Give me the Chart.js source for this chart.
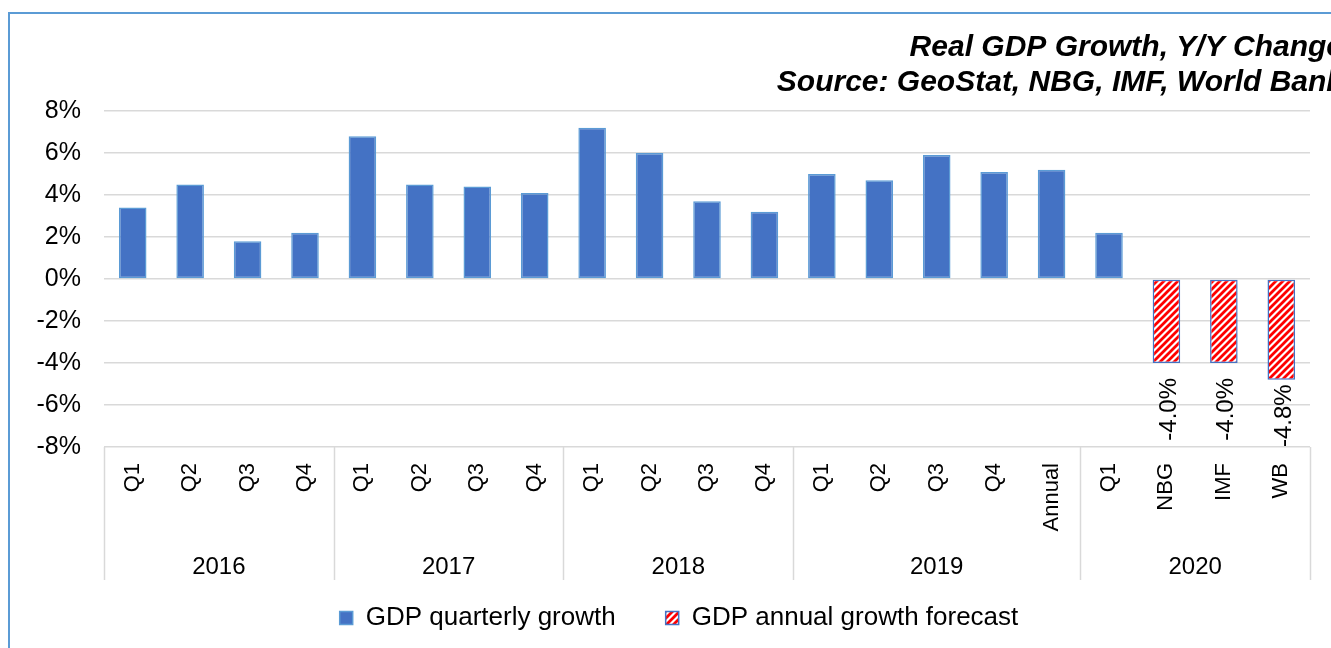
<!DOCTYPE html>
<html>
<head>
<meta charset="utf-8">
<script src="https://cdn.jsdelivr.net/npm/chart.js@4"></script>
<style>
html,body{margin:0;padding:0;overflow:hidden;background:#fff}
#marco{position:absolute;left:8px;top:12px;width:1360px;height:680px;border:2px solid #5b9bd5}
canvas{display:block}
</style>
</head>
<body>
<div id="marco"><canvas id="grafico" width="1350" height="660"></canvas></div>
<script>
// datos del grafico
const categorias = ['Q1','Q2','Q3','Q4','Q1','Q2','Q3','Q4','Q1','Q2','Q3','Q4','Q1','Q2','Q3','Q4','Annual','Q1','NBG','IMF','WB']
const anios = ['2016','2017','2018','2019','2020']
const anios_span = [4,4,4,5,4]
const crecimiento_trimestral = [3.4,4.5,1.8,2.2, 6.8,4.5,4.4,4.1, 7.2,6.0,3.7,3.2, 5.0,4.7,5.9,5.1,5.2, 2.2,null,null,null]
const pronostico_anual = [null,null,null,null, null,null,null,null, null,null,null,null, null,null,null,null,null, null,-4.0,-4.0,-4.8]
const titulo = ['Real GDP Growth, Y/Y Change','Source: GeoStat, NBG, IMF, World Bank']

window.addEventListener('load',()=>{
    const canvas = document.getElementById('grafico')
    const ctx = canvas.getContext('2d')
    const fuente = '"Liberation Sans", Arial, sans-serif'
    Chart.defaults.font.family = fuente
    Chart.defaults.color = '#000'

    //patron rayado rojo para los pronosticos
    const tile = document.createElement('canvas')
    tile.width = 7
    tile.height = 7
    const tctx = tile.getContext('2d')
    tctx.fillStyle = '#fff'
    tctx.fillRect(0,0,7,7)
    tctx.strokeStyle = '#ff0000'
    tctx.lineWidth = 2.8
    tctx.beginPath()
    tctx.moveTo(-1,8); tctx.lineTo(8,-1)
    tctx.moveTo(-4,4); tctx.lineTo(4,-4)
    tctx.moveTo(3,11); tctx.lineTo(11,3)
    tctx.stroke()
    const rayado = ctx.createPattern(tile,'repeat')

    //titulo, separadores de anios y etiquetas de pronostico
    const extras = {
        id:'extras',
        afterDraw(chart){
            const {ctx, chartArea, scales:{x}} = chart
            const ancho = x.width / categorias.length
            ctx.save()
            //titulo
            ctx.font = 'italic bold 30px ' + fuente
            ctx.fillStyle = '#000'
            ctx.textAlign = 'right'
            ctx.textBaseline = 'alphabetic'
            ctx.fillText(titulo[0], 1333, 42)
            ctx.fillText(titulo[1], 1333, 77)
            //separadores
            let idx = 0
            const bordes = [0]
            anios_span.forEach(n=>{ idx += n; bordes.push(idx) })
            ctx.strokeStyle = '#d9d9d9'
            ctx.lineWidth = 1.5
            bordes.forEach(i=>{
                const px = Math.round(x.getPixelForValue(i) - ancho/2) + 0.5
                ctx.beginPath()
                ctx.moveTo(px, chartArea.bottom)
                ctx.lineTo(px, chartArea.bottom + 133)
                ctx.stroke()
            })
            //anios
            ctx.font = '24px ' + fuente
            ctx.textAlign = 'center'
            ctx.textBaseline = 'middle'
            anios.forEach((a,k)=>{
                const x0 = x.getPixelForValue(bordes[k]) - ancho/2
                const x1 = x.getPixelForValue(bordes[k+1]) - ancho/2
                ctx.fillText(a, (x0+x1)/2, chartArea.bottom + 120)
            })
            //etiquetas de pronostico
            const meta = chart.getDatasetMeta(1)
            meta.data.forEach((el,i)=>{
                const v = pronostico_anual[i]
                if(v === null) return
                const txt = v.toFixed(1) + '%'
                const w = ctx.measureText(txt).width
                const inicio = Math.min(el.y + 15, chartArea.bottom - w)
                ctx.save()
                ctx.translate(el.x + 3, inicio)
                ctx.rotate(-Math.PI/2)
                ctx.textAlign = 'right'
                ctx.fillText(txt, 0, 0)
                ctx.restore()
            })
            ctx.restore()
        }
    }

    new Chart(ctx,{
        type:'bar',
        data:{
            labels:categorias,
            datasets:[
                {
                    label:'GDP quarterly growth',
                    data:crecimiento_trimestral,
                    backgroundColor:'#4472c4',
                    borderColor:'#5b9bd5',
                    borderWidth:1.5,
                    borderSkipped:false,
                    barPercentage:0.48,
                    categoryPercentage:1,
                    grouped:false
                },
                {
                    label:'GDP annual growth forecast',
                    data:pronostico_anual,
                    backgroundColor:rayado,
                    borderColor:'#4472c4',
                    borderWidth:1.5,
                    borderSkipped:false,
                    barPercentage:0.48,
                    categoryPercentage:1,
                    grouped:false
                }
            ]
        },
        options:{
            responsive:false,
            animation:false,
            layout:{padding:{left:0,right:12,top:97,bottom:33}},
            plugins:{
                legend:{
                    position:'bottom',
                    labels:{font:{size:26}, color:'#000', boxWidth:13, boxHeight:13, padding:50}
                },
                tooltip:{enabled:false},
                title:{display:false}
            },
            scales:{
                x:{
                    grid:{display:false},
                    border:{display:false},
                    ticks:{autoSkip:false, minRotation:90, maxRotation:90, font:{size:22}, color:'#000', padding:8},
                    afterFit:s=>{ s.height = 108 }
                },
                y:{
                    min:-8,
                    max:8,
                    ticks:{stepSize:2, callback:v=>v + '%', font:{size:25}, color:'#000', padding:23},
                    grid:{color:'#d9d9d9', lineWidth:1.5, drawTicks:false},
                    border:{display:false},
                    afterFit:s=>{ s.width = 94 }
                },
                //eje vacio a la derecha para centrar la leyenda
                y2:{
                    position:'right',
                    grid:{display:false},
                    border:{display:false},
                    ticks:{display:false},
                    afterFit:s=>{ s.width = 38 }
                }
            }
        },
        plugins:[extras]
    })
})
</script>
</body>
</html>
